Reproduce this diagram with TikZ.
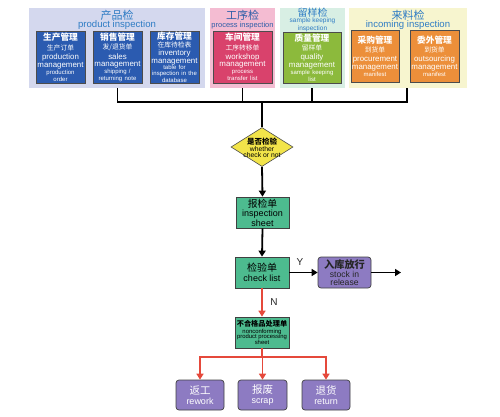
\documentclass[tikz,border=0pt]{standalone}
\usepackage{fontspec}
\setmainfont{Liberation Sans}
\newfontfamily\cjk{Noto Sans CJK SC}
\usetikzlibrary{shapes.geometric,arrows.meta}
\definecolor{pbg}{HTML}{D4D8EE}
\definecolor{qbg}{HTML}{F4BCD2}
\definecolor{sbg}{HTML}{D8EFE4}
\definecolor{ibg}{HTML}{F7F5CF}
\definecolor{bluebox}{HTML}{2B5BB0}
\definecolor{redbox}{HTML}{D9426C}
\definecolor{olivebox}{HTML}{8CBA3C}
\definecolor{orangebox}{HTML}{EC8F3A}
\definecolor{titleblue}{HTML}{2E7CC4}
\definecolor{titledark}{HTML}{2D5EA8}
\definecolor{dyellow}{HTML}{F2E44A}
\definecolor{gbox}{HTML}{4DBB8F}
\definecolor{pbox}{HTML}{8D7BC2}
\definecolor{redline}{HTML}{E5493B}
\newcommand\zht[1]{{\cjk\bfseries\fontsize{8.7}{8.7}\selectfont #1}}
\newcommand\zhs[1]{{\cjk\fontsize{6.8}{6.8}\selectfont #1}}
\newcommand\ena[1]{{\fontsize{7.9}{7.9}\selectfont #1}}
\newcommand\enb[1]{{\fontsize{6}{6}\selectfont #1}}
\begin{document}
\begin{tikzpicture}[x=1pt,y=-1pt,
  panel/.style={fill=#1,draw=none,inner sep=0,anchor=north west},
  topbox/.style={draw=black!70,line width=0.6pt,fill=#1,text=white,inner sep=0,
    minimum height=52,align=center,font=\fontsize{7}{6.6}\selectfont},
  ptitle/.style={text=titleblue,inner sep=0,font=\cjk\fontsize{11}{11}\selectfont},
  psub/.style={text=titleblue,inner sep=0,font=\fontsize{9.6}{9.6}\selectfont},
  bl/.style={line width=1.8pt,black},
  rd/.style={line width=1.8pt,redline},
  tip/.style={-{Triangle[width=7pt,length=6pt]}},
  gboxs/.style={draw=black!75,fill=gbox,line width=0.7pt,inner sep=0,align=center,text=black},
  pboxs/.style={draw=black!75,fill=pbox,line width=0.7pt,inner sep=0,align=center,rounded corners=3pt},
  lbl/.style={inner sep=0,font=\fontsize{10}{10}\selectfont,text=black!85}
]
\useasboundingbox (0,0) rectangle (500,416);
% panels
\node[panel=pbg,minimum width=176,minimum height=80] (pp) at (29,8) {};
\node[panel=qbg,minimum width=65,minimum height=80] (pq) at (210,8) {};
\node[panel=sbg,minimum width=65,minimum height=80] (ps) at (280,8) {};
\node[panel=ibg,minimum width=118,minimum height=80] (pi) at (349,8) {};
% panel titles
\node[ptitle] (t1) at (117,15) {产品检};
\node[psub] (s1) at (117,25) {product inspection};
\node[ptitle,text=titledark] (t2) at (242.5,15) {工序检};
\node[psub,text=titledark,font=\fontsize{7.5}{7.5}\selectfont] (s2) at (242.5,25.5) {process inspection};
\node[ptitle,font=\cjk\fontsize{10}{10}\selectfont] (t3) at (312.5,13) {留样检};
\node[psub,align=center,font=\fontsize{6.5}{6}\selectfont] (s3) at (312.5,24.8) {sample keeping\\inspection};
\node[ptitle] (t4) at (408,15) {来料检};
\node[psub] (s4) at (408,25) {incoming inspection};
% top boxes
\node[topbox=bluebox,minimum width=49,text width=49] (b1) at (60.5,57)
 {\zht{生产管理}\\[2.6pt]\zhs{生产订单}\\[2.4pt]\ena{production}\\\ena{management}\\[0.3pt]\enb{production}\\[0.4pt]\enb{order}};
\node[topbox=bluebox,minimum width=49,text width=49] (b2) at (117.5,57)
 {\zht{销售管理}\\[2.6pt]\zhs{发/退货单}\\[2.4pt]\ena{sales}\\\ena{management}\\[0.3pt]\enb{shipping /}\\[0.4pt]\enb{returning note}};
\node[topbox=bluebox,minimum width=49,text width=49] (b3) at (174.5,57)
 {\zht{库存管理}\\[1.2pt]\zhs{在库待检表}\\[0.8pt]\ena{inventory}\\\ena{management}\\[-0.2pt]\enb{table for}\\[-0.2pt]\enb{inspection in the}\\[-0.2pt]\enb{database}};
\node[topbox=redbox,minimum width=59,text width=59] (b4) at (242.5,57)
 {\zht{车间管理}\\[2.6pt]\zhs{工序转移单}\\[2.4pt]\ena{workshop}\\\ena{management}\\[0.3pt]\enb{process}\\[0.4pt]\enb{transfer list}};
\node[topbox=olivebox,minimum width=58,text width=58,minimum height=51] (b5) at (312,57.5)
 {\zht{质量管理}\\[2.6pt]\zhs{留样单}\\[2.4pt]\ena{quality}\\\ena{management}\\[0.3pt]\enb{sample keeping}\\[0.4pt]\enb{list}};
\node[topbox=orangebox,minimum width=48,text width=48] (b6) at (375,56)
 {\zht{采购管理}\\[2.6pt]\zhs{到货单}\\[2.4pt]\ena{procurement}\\\ena{management}\\[0.3pt]\enb{manifest}};
\node[topbox=orangebox,minimum width=49,text width=49] (b7) at (434.5,56)
 {\zht{委外管理}\\[2.6pt]\zhs{到货单}\\[2.4pt]\ena{outsourcing}\\\ena{management}\\[0.3pt]\enb{manifest}};
% diamond
\node[diamond,draw=black!70,fill=dyellow,line width=0.6pt,minimum width=62,minimum height=39,inner sep=0] (d) at (262,147) {};
\node[align=center,inner sep=0,font=\fontsize{6.8}{6.4}\selectfont] (dt) at (262,147.5)
 {{\cjk\bfseries\fontsize{7.5}{7.5}\selectfont 是否检验}\\[0.6pt]whether\\check or not};
% flow boxes
\node[gboxs,minimum width=53,minimum height=31,font=\fontsize{9}{7.8}\selectfont] (ins) at (262.5,212.5)
 {{\cjk\fontsize{9.8}{9.8}\selectfont 报检单}\\[2pt]inspection\\sheet};
\node[gboxs,minimum width=54,minimum height=31,font=\fontsize{9}{10}\selectfont] (chk) at (262,272.5)
 {{\cjk\fontsize{10}{10}\selectfont 检验单}\\check list};
\node[pboxs,minimum width=53,minimum height=31,font=\fontsize{8.6}{8.2}\selectfont,text=black!85] (st) at (344.5,272.5)
 {{\cjk\bfseries\fontsize{10.2}{10.2}\selectfont 入库放行}\\[0.8pt]stock in\\release};
\node[gboxs,minimum width=54,minimum height=31,font=\fontsize{5.9}{5.6}\selectfont] (nc) at (262,332.5)
 {{\cjk\bfseries\fontsize{7.2}{7.2}\selectfont 不合格品处理单}\\[0.6pt]nonconforming\\product processing\\sheet};
\node[pboxs,minimum width=48,minimum height=30,text=white,font=\fontsize{9}{10.5}\selectfont] (rw) at (200,395)
 {{\cjk\fontsize{10.5}{10.5}\selectfont 返工}\\rework};
\node[pboxs,minimum width=49,minimum height=30,text=white,font=\fontsize{9}{10.5}\selectfont] (sc) at (262.5,395)
 {{\cjk\fontsize{10.5}{10.5}\selectfont 报废}\\scrap};
\node[pboxs,minimum width=48,minimum height=30,text=white,font=\fontsize{9}{10.5}\selectfont] (rt) at (326,395)
 {{\cjk\fontsize{10.5}{10.5}\selectfont 退货}\\return};
% connectors top
\coordinate (j) at (262,102);
\coordinate (ic) at (407,88);
\draw[bl] (pp.south -| b2) |- (j);
\draw[bl] (pq.south -| b4) |- (j);
\draw[bl] (ps.south -| b5) |- (j);
\draw[bl] (ic) |- (j);
\draw[bl] (j) -- (d.north);
\draw[bl,tip] (d.south) -- (ins.north);
\draw[bl,tip] (ins.south) -- (chk.north);
\draw[bl,tip] (chk.east) -- (st.west);
\coordinate (out) at (401,272.5);
\draw[bl,tip] (st.east) -- (out);
\node[lbl] (yl) at (300,262) {Y};
\draw[rd,tip] (chk.south) -- (nc.north);
\node[lbl] (nl) at (274,302) {N};
\coordinate (rj) at (262,357);
\draw[rd] (nc.south) -- (rj);
\draw[rd,tip] (rj) -| (rw.north);
\draw[rd,tip] (rj) -| (sc.north);
\draw[rd,tip] (rj) -| (rt.north);
\end{tikzpicture}
\end{document}
